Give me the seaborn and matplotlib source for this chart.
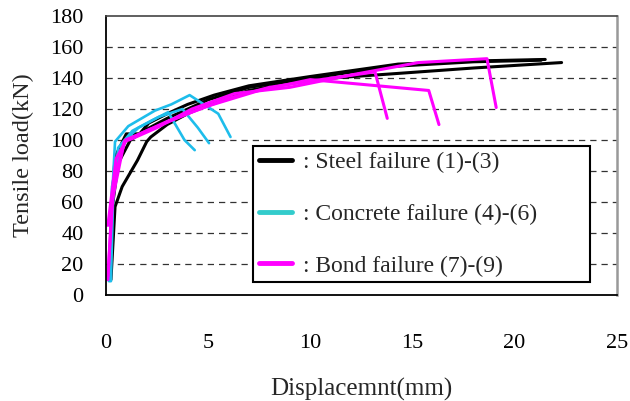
import numpy as np
import pandas as pd
import matplotlib
matplotlib.use("Agg")
import matplotlib.pyplot as plt
import seaborn as sns
from matplotlib.lines import Line2D

# ---- data (displacement mm, tensile load kN) ----
s1_x = [0.25, 0.45, 0.8, 1.55, 2.0, 2.2, 3.0, 4.0, 5.0, 7.0, 10.0, 14.3, 18.0, 22.3]
s1_y = [10, 57, 70, 87, 99, 102, 110, 117, 123, 132, 139, 143, 146.5, 150]
s2_x = [0.2, 0.3, 0.45, 1.0, 1.65, 2.1, 3.0, 4.0, 5.3, 7.0, 10.0, 14.3, 18.0, 21.5]
s2_y = [10, 60, 89, 104, 104, 111, 117, 123, 129, 135, 141, 149, 151, 152]
s3_x = [0.15, 0.3, 0.6, 1.2, 2.0, 3.0, 4.0, 5.0, 7.0, 10.0, 14.0, 18.0, 21.3]
s3_y = [10, 55, 85, 100, 107, 114, 120, 126, 134, 140, 147.5, 150.5, 151.5]

c1_x = [0.2, 0.25, 0.45, 1.1, 2.4, 3.2, 4.1, 5.5, 6.1]
c1_y = [9, 50, 99, 109, 119, 123, 129, 117, 102]
c2_x = [0.25, 0.35, 0.6, 1.3, 2.3, 3.05, 3.85, 4.35]
c2_y = [9, 60, 95, 106, 113, 118, 100, 93.5]
c3_x = [0.15, 0.3, 0.8, 1.6, 2.6, 3.75, 4.5, 5.05]
c3_y = [9, 70, 98, 108, 115, 120, 108, 98]

m1_x = [0.1, 0.3, 0.9, 1.3, 2.5, 4.2, 6.3, 9.0, 12.0, 15.3, 18.65, 19.1]
m1_y = [10, 60, 99, 101, 108, 120, 130, 134, 142, 150, 152.5, 121]
m2_x = [0.1, 0.4, 0.95, 1.5, 3.0, 5.0, 7.5, 10.0, 15.8, 16.3]
m2_y = [12, 75, 100, 103, 112, 122, 132, 139, 132, 110]
m3_x = [0.1, 0.5, 1.0, 2.0, 4.0, 6.0, 8.0, 10.0, 13.17, 13.77]
m3_y = [45, 88, 100, 106, 117, 127, 134, 138, 144, 114]

legend_labels = [": Steel failure (1)-(3)", ": Concrete failure (4)-(6)        ", ": Bond failure (7)-(9)"]
x_ticks = [0, 5, 10, 15, 20, 25]
y_ticks = [0, 20, 40, 60, 80, 100, 120, 140, 160, 180]

rows = []
for mode, curves in [("steel", [(s1_x, s1_y), (s2_x, s2_y), (s3_x, s3_y)]),
                     ("concrete", [(c1_x, c1_y), (c2_x, c2_y), (c3_x, c3_y)]),
                     ("bond", [(m1_x, m1_y), (m2_x, m2_y), (m3_x, m3_y)])]:
    for i, (xs, ys) in enumerate(curves):
        for j, (xv, yv) in enumerate(zip(xs, ys)):
            rows.append({"disp": xv, "load": yv, "mode": mode, "spec": f"{mode}{i}", "order": j})
df = pd.DataFrame(rows)

sns.set_style("white")
plt.rcParams["font.family"] = ["Liberation Serif", "DejaVu Serif"]

fig = plt.figure(figsize=(6.3, 4.01), dpi=100)
ax = fig.add_axes([0.168, 0.264, 0.811, 0.696])

for y in y_ticks[1:-1]:
    ax.axhline(y, color="#333333", lw=0.9, ls=(0, (5, 4)), zorder=0)

styles = {"steel": ("#000000", 2.2), "concrete": ("#1EBDEB", 1.9), "bond": ("#FF00FF", 2.2)}
for mode in ["steel", "concrete", "bond"]:
    color, lw = styles[mode]
    sub = df[df["mode"] == mode]
    sns.lineplot(data=sub, x="disp", y="load", units="spec", estimator=None, sort=False,
                 color=color, lw=lw, ax=ax, legend=False)

ax.set_xlim(0, 25)
ax.set_ylim(0, 180)
ax.set_xticks(x_ticks)
ax.set_yticks(y_ticks)
ax.tick_params(axis="both", direction="in", length=6, width=1, labelsize=16, colors="black")
ax.tick_params(axis="x", pad=28)
ax.tick_params(axis="y", pad=16)
ax.set_xlabel("Displacemnt(mm)", fontsize=18, labelpad=18)
ax.set_ylabel("Tensile load(kN)", fontsize=17.5, labelpad=12)

for side in ["left", "bottom"]:
    ax.spines[side].set_color("black")
    ax.spines[side].set_linewidth(1.3)
ax.spines["top"].set_color("#444444")
ax.spines["top"].set_linewidth(1.2)
ax.spines["right"].set_color("#999999")
ax.spines["right"].set_linewidth(1.8)

handles = [Line2D([], [], color="#000000", lw=3.5),
           Line2D([], [], color="#33CCCC", lw=3.5),
           Line2D([], [], color="#FF00FF", lw=3.5)]
leg = ax.legend(handles, legend_labels, loc="upper left", bbox_to_anchor=(0.288, 0.534),
                fontsize=17, frameon=True, fancybox=False, edgecolor="black",
                framealpha=1, labelspacing=1.27, handlelength=1.4, handletextpad=0.45,
                borderpad=0.25, borderaxespad=0)
leg.get_frame().set_linewidth(1.5)

fig.savefig("out.png", dpi=100)
